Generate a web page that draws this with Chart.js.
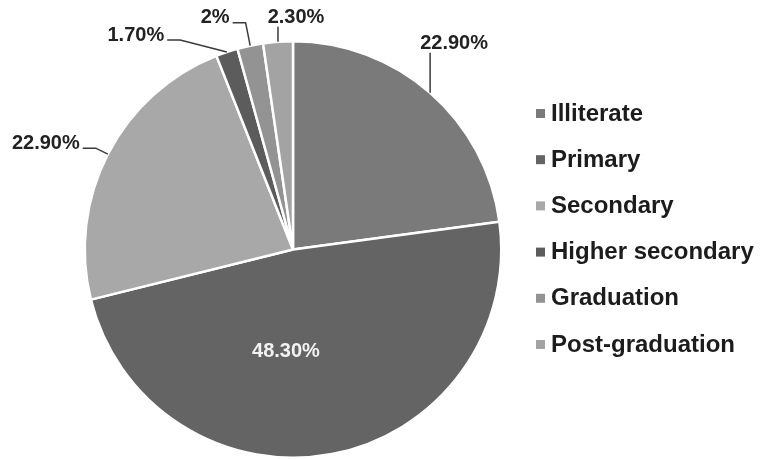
<!DOCTYPE html>
<html>
<head>
<meta charset="utf-8">
<script src="https://cdn.jsdelivr.net/npm/chart.js@4.4.1/dist/chart.umd.min.js"></script>
<style>
  html, body { margin: 0; padding: 0; background: #fff; }
  #wrap { width: 761px; height: 459px; }
</style>
</head>
<body>
<div id="wrap"><canvas id="edu" width="761" height="459"></canvas></div>
<script>
const categories = ["Illiterate", "Primary", "Secondary", "Higher secondary", "Graduation", "Post-graduation"];
const shares = [22.9, 48.3, 22.9, 1.7, 2, 2.3];
const shareLabels = ["22.90%", "48.30%", "22.90%", "1.70%", "2%", "2.30%"];
const sliceColors = ["#7a7a7a", "#646464", "#a8a8a8", "#5c5c5c", "#939393", "#a3a3a3"];

// where each value label sits, relative to the point on the rim at the slice's middle angle
const labelShift = [[24, -49], [-46, -103], [-62, -11], [-91, -17], [-35, -28], [18, -24]];
const insideLabel = [false, true, false, false, false, false];

const sliceLabels = {
  id: "sliceLabels",
  afterDatasetsDraw(chart) {
    const ctx = chart.ctx;
    const arcs = chart.getDatasetMeta(0).data;
    ctx.save();
    ctx.font = "bold 20px 'Liberation Sans', Arial, sans-serif";
    ctx.textBaseline = "middle";
    ctx.textAlign = "center";
    arcs.forEach((arc, i) => {
      const p = arc.getProps(["x", "y", "startAngle", "endAngle", "outerRadius"], true);
      const mid = (p.startAngle + p.endAngle) / 2;
      const ex = p.x + Math.cos(mid) * p.outerRadius;
      const ey = p.y + Math.sin(mid) * p.outerRadius;
      const lx = ex + labelShift[i][0];
      const ly = ey + labelShift[i][1];
      const txt = shareLabels[i];
      const w = ctx.measureText(txt).width;

      if (insideLabel[i]) {
        ctx.fillStyle = "#f2f2f2";
        ctx.fillText(txt, lx, ly);
        return;
      }

      // leader line
      ctx.strokeStyle = "#3a3a3a";
      ctx.lineWidth = 1.5;
      ctx.beginPath();
      if (ex > lx - w / 2 && ex < lx + w / 2) {
        ctx.moveTo(ex, ly + 9);
        ctx.lineTo(ex, ey);
      } else {
        const dir = ex > lx ? 1 : -1;
        const sx = lx + dir * (w / 2 + 3);
        const sy = ly + 5;
        ctx.moveTo(sx, sy);
        ctx.lineTo(sx + dir * 13, sy);
        ctx.lineTo(ex, ey);
      }
      ctx.stroke();

      ctx.fillStyle = "#222";
      ctx.fillText(txt, lx, ly);
    });
    ctx.restore();
  }
};

const sideLegend = {
  id: "sideLegend",
  afterDraw(chart) {
    const ctx = chart.ctx;
    ctx.save();
    ctx.font = "bold 24px 'Liberation Sans', Arial, sans-serif";
    ctx.textBaseline = "middle";
    ctx.textAlign = "left";
    categories.forEach((name, i) => {
      const y = 114 + i * 46.2;
      ctx.fillStyle = sliceColors[i];
      ctx.fillRect(536, y - 5, 9, 9);
      ctx.fillStyle = "#1c1c1c";
      ctx.fillText(name, 551, y);
    });
    ctx.restore();
  }
};

new Chart(document.getElementById("edu"), {
  type: "pie",
  data: {
    labels: categories,
    datasets: [{
      data: shares,
      backgroundColor: sliceColors,
      borderColor: "#ffffff",
      borderWidth: 2.5
    }]
  },
  options: {
    responsive: false,
    animation: false,
    layout: { padding: { top: 40, bottom: 0, left: 0, right: 175 } },
    plugins: {
      legend: { display: false },
      tooltip: { enabled: false }
    }
  },
  plugins: [sliceLabels, sideLegend]
});
</script>
</body>
</html>
